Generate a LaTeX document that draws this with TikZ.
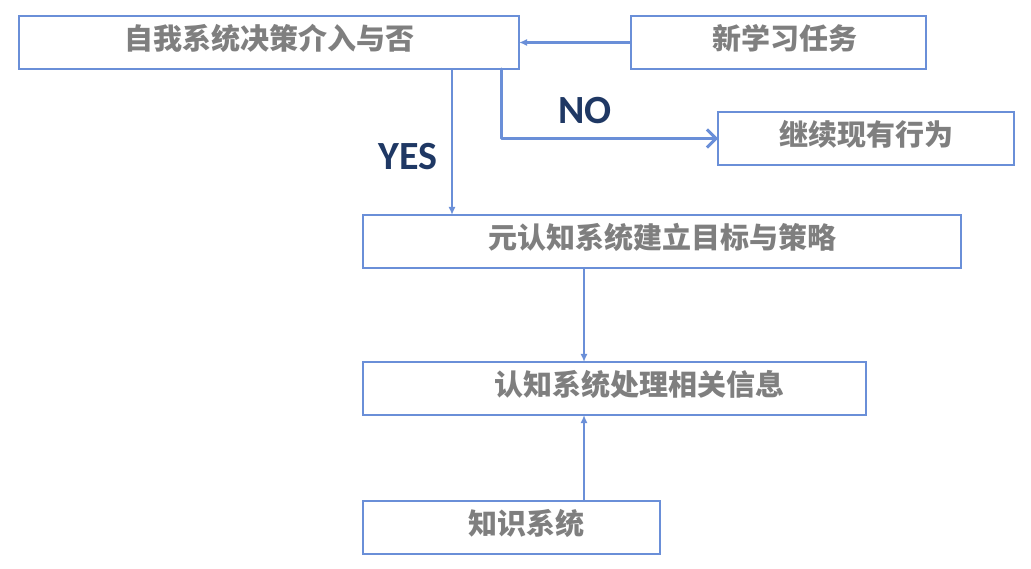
\documentclass[tikz,border=0pt]{standalone}
\usepackage{fontspec}
\newfontfamily\cjk{Noto Sans CJK SC}
\newfontfamily\lat{Carlito}
\usetikzlibrary{arrows.meta}
\definecolor{boxblue}{HTML}{6A8FD8}
\definecolor{txtgray}{HTML}{7F7F7F}
\definecolor{navy}{HTML}{1F3864}
\tikzset{
  box/.style={draw=boxblue, line width=2.8pt, fill=white, anchor=north west, inner sep=0pt, outer sep=0pt,
    minimum height=53pt, text height=25pt, text depth=11pt,
    font=\cjk\bfseries\fontsize{29}{31}\selectfont, text=txtgray},
  txshift/.style={execute at begin node={\hspace*{#1}}},
  arr/.style={draw=boxblue, line width=2.3pt, -{Latex[length=8pt,width=7pt]}},
  noarr/.style={draw=boxblue, line width=3pt, line cap=round, line join=round, -{Straight Barb[length=9pt,width=18pt,line width=3pt]}},
  lab/.style={font=\lat\bfseries\fontsize{40}{42}\selectfont, text=navy}
}
\begin{document}
\begin{tikzpicture}[x=1pt,y=-1pt]
\useasboundingbox (0,0) rectangle (1031,569);
\node[box, minimum width=500pt] (A) at (19,16) {自我系统决策介入与否};
\node[box, minimum width=295pt, txshift=12pt] (B) at (631,16) {新学习任务};
\node[box, minimum width=296pt] (C) at (718,112) {继续现有行为};
\node[box, minimum width=598pt] (D) at (363,215) {元认知系统建立目标与策略};
\node[box, minimum width=503pt, txshift=50pt] (E) at (363,362) {认知系统处理相关信息};
\node[box, minimum width=297pt, txshift=30pt] (F) at (363,501) {知识系统};
\coordinate (yx) at (452,0);
\coordinate (nx) at (501,0);
\coordinate (mx) at (584,0);
\draw[arr] (B.west) -- (A.east);
\draw[noarr] (A.south -| nx) |- (C.west);
\draw[arr] (A.south -| yx) -- (D.north -| yx);
\draw[arr] (D.south -| mx) -- (E.north -| mx);
\draw[arr] (F.north -| mx) -- (E.south -| mx);
\node[lab] (yes) at (408,157) {YES};
\node[lab] (no) at (585,111) {NO};
\end{tikzpicture}
\end{document}
